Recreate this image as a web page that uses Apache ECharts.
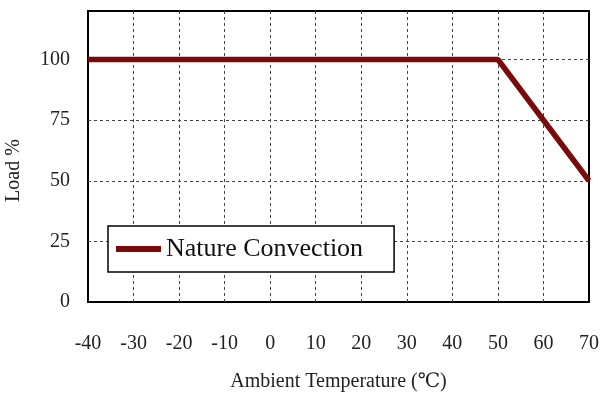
<!DOCTYPE html>
<html>
<head>
<meta charset="utf-8">
<script src="https://cdn.jsdelivr.net/npm/echarts@6/dist/echarts.min.js"></script>
<style>
html,body{margin:0;padding:0;background:#fff;}
#chart{width:606px;height:394px;}
</style>
</head>
<body>
<div id="chart"></div>
<script>
// Data
const seriesName = 'Nature Convection';
const temperatures = [-40, 50, 70];
const loads = [100, 100, 50];
const xTicks = [-40, -30, -20, -10, 0, 10, 20, 30, 40, 50, 60, 70];
const yTicks = [0, 25, 50, 75, 100];
const xTitle = 'Ambient Temperature (℃)';
const yTitle = 'Load %';

const FONT = "'Liberation Serif', 'Times New Roman', 'DejaVu Serif', serif";
const LINE_COLOR = '#7a0a0a';

const chart = echarts.init(document.getElementById('chart'), null, {renderer: 'canvas'});
chart.setOption({
  animation: false,
  backgroundColor: '#ffffff',
  grid: {
    left: 88, right: 17, top: 11, bottom: 92,
    containLabel: false,
    outerBoundsMode: 'none',
    show: true, borderColor: '#000', borderWidth: 2, backgroundColor: '#fff'
  },
  legend: {
    left: 108, top: 226,
    orient: 'horizontal',
    backgroundColor: '#fff',
    borderColor: '#000',
    borderWidth: 1.5,
    borderRadius: 0,
    padding: [10, 31, 10, 8],
    itemWidth: 45,
    itemHeight: 6,
    data: [{name: seriesName, icon: 'rect'}],
    textStyle: {fontFamily: FONT, fontSize: 26, color: '#111'}
  },
  xAxis: {
    type: 'value',
    min: xTicks[0], max: xTicks[xTicks.length - 1], interval: 10,
    name: xTitle,
    nameLocation: 'middle',
    nameGap: 70,
    nameTextStyle: {fontFamily: FONT, fontSize: 20, color: '#222'},
    axisLine: {show: false},
    axisTick: {show: false},
    axisLabel: {margin: 32, fontFamily: FONT, fontSize: 20, color: '#222'},
    splitLine: {show: true, showMinLine: false, showMaxLine: false, lineStyle: {color: '#444', width: 1, type: [3, 3]}}
  },
  yAxis: {
    type: 'value',
    min: 0, max: 120, interval: 25,
    name: yTitle,
    nameLocation: 'middle',
    nameGap: 64,
    nameRotate: 90,
    nameTextStyle: {fontFamily: FONT, fontSize: 20, color: '#222', padding: [0, 28, 0, 0]},
    axisLine: {show: false},
    axisTick: {show: false},
    axisLabel: {
      margin: 18, fontFamily: FONT, fontSize: 20, color: '#222', padding: [9, 0, 0, 0],
      formatter: function (v) { return yTicks.indexOf(v) >= 0 ? String(v) : ''; }
    },
    splitLine: {show: true, showMinLine: false, showMaxLine: false, lineStyle: {color: '#444', width: 1, type: [3, 3]}}
  },
  series: [{
    name: seriesName,
    type: 'line',
    data: temperatures.map((t, i) => [t, loads[i]]),
    showSymbol: false,
    symbol: 'none',
    lineStyle: {color: LINE_COLOR, width: 5.5},
    itemStyle: {color: LINE_COLOR},
    z: 3
  }]
});
</script>
</body>
</html>
